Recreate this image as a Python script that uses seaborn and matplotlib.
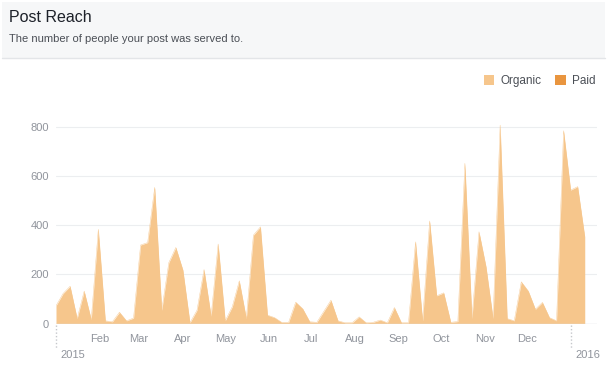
import pandas as pd
import numpy as np
import matplotlib
matplotlib.use('Agg')
import matplotlib.pyplot as plt
import matplotlib.dates as mdates
from matplotlib.patches import Patch, Rectangle
from matplotlib.lines import Line2D
import seaborn as sns

# Post reach, one point every 5 days from 1 Jan 2015
start_date = '2015-01-01'
step = '5D'
organic = [72, 122, 152, 20, 132, 16, 384, 11, 7, 46,
           11, 22, 320, 330, 555, 54, 248, 310, 218, 3,
           54, 220, 30, 324, 11, 68, 174, 20, 360, 394,
           34, 24, 5, 5, 87, 60, 7, 5, 50, 95,
           11, 3, 3, 27, 3, 5, 14, 3, 65, 3,
           3, 333, 11, 418, 113, 125, 5, 8, 653, 20,
           374, 231, 20, 809, 20, 11, 170, 132, 58, 86,
           24, 11, 786, 544, 558, 354]
paid = [0] * len(organic)
y_ticks = [0, 200, 400, 600, 800]
month_labels = ['Feb', 'Mar', 'Apr', 'May', 'Jun', 'Jul', 'Aug', 'Sep', 'Oct', 'Nov', 'Dec']
year_labels = ['2015', '2016']
series_names = ['Organic', 'Paid']

df = pd.DataFrame({
    'date': pd.date_range(start_date, periods=len(organic), freq=step),
    'organic': organic,
    'paid': paid,
})
df['total'] = df['organic'] + df['paid']

sns.set_style('white')
plt.rcParams['font.family'] = ['Liberation Sans', 'DejaVu Sans']

c_org = '#f6c68c'
c_paid = '#e9953f'
c_tick = '#90949c'
c_grid = '#eceef0'

fig = plt.figure(figsize=(6.09, 3.67), dpi=100)

# header panel
fig.patches.append(Rectangle((2 / 609, 1 - 58 / 367), 603 / 609, 56 / 367,
                             transform=fig.transFigure, facecolor='#f6f7f8',
                             edgecolor='none', zorder=0))
fig.lines.append(Line2D([2 / 609, 605 / 609], [1 - 58 / 367] * 2, transform=fig.transFigure,
                        color='#e3e5e8', lw=1))
fig.text(9 / 609, 1 - 18 / 367, 'Post Reach', fontsize=11.5, color='#1d2129', va='center')
fig.text(9 / 609, 1 - 39 / 367, 'The number of people your post was served to.',
         fontsize=8, color='#4b4f56', va='center')

ax = fig.add_axes([56 / 609, (367 - 323.5) / 367, 541 / 609, 830 * 0.24525 / 367])

ax.fill_between(df['date'], 0, df['organic'], color=c_org, lw=0, zorder=2)
ax.fill_between(df['date'], df['organic'], df['total'], color=c_paid, lw=0, zorder=2)
sns.lineplot(data=df, x='date', y='total', ax=ax, color=c_org, lw=0.3, zorder=2)

for s in ax.spines.values():
    s.set_visible(False)
ax.axhline(0, color='#dcdee1', lw=1, zorder=3)
for v in y_ticks[1:]:
    ax.axhline(v, color=c_grid, lw=0.8, zorder=1)

ax.set_yticks(y_ticks)
ax.set_yticklabels([str(v) for v in y_ticks], fontsize=8, color=c_tick)
ax.tick_params(axis='y', length=0, pad=5)

# minor ticks at mid-month, labels at month starts
mid = pd.date_range('2015-02-01', periods=12, freq='MS') + pd.Timedelta(days=14)
ax.set_xticks(mdates.date2num(mid))
ax.set_xticklabels([])
ax.tick_params(axis='x', length=3, color='#d0d2d6', width=0.8)
ax.set_xlabel('')
ax.set_ylabel('')

x0 = pd.Timestamp(start_date)
ax.set_xlim(x0, x0 + pd.Timedelta(days=383.7))
ax.set_ylim(0, 830)

month_starts = pd.date_range('2015-02-01', periods=len(month_labels), freq='MS')
for d, lab in zip(month_starts, month_labels):
    ax.text(d, -65, lab, ha='center', va='center', fontsize=8, color=c_tick, clip_on=False)

for yr, lab in zip([pd.Timestamp('2015-01-01'), pd.Timestamp('2016-01-01')], year_labels):
    ax.plot([yr, yr], [-5, -105], ls=(0, (1, 1.5)), color='#c5c7cb', lw=1, clip_on=False)
    ax.text(yr + pd.Timedelta(days=3.5), -128, lab, ha='left', va='center', fontsize=8,
            color=c_tick, clip_on=False)

handles = [Patch(facecolor=c_org, edgecolor='none', label=series_names[0]),
           Patch(facecolor=c_paid, edgecolor='none', label=series_names[1])]
fig.legend(handles=handles, loc='center right', bbox_to_anchor=(606 / 609, 1 - 81 / 367),
           ncol=2, frameon=False, fontsize=8.5, handlelength=0.9, handleheight=0.9,
           handletextpad=0.5, columnspacing=1.2, labelcolor='#4b4f56')

plt.savefig('out.png', dpi=100)
plt.close()
